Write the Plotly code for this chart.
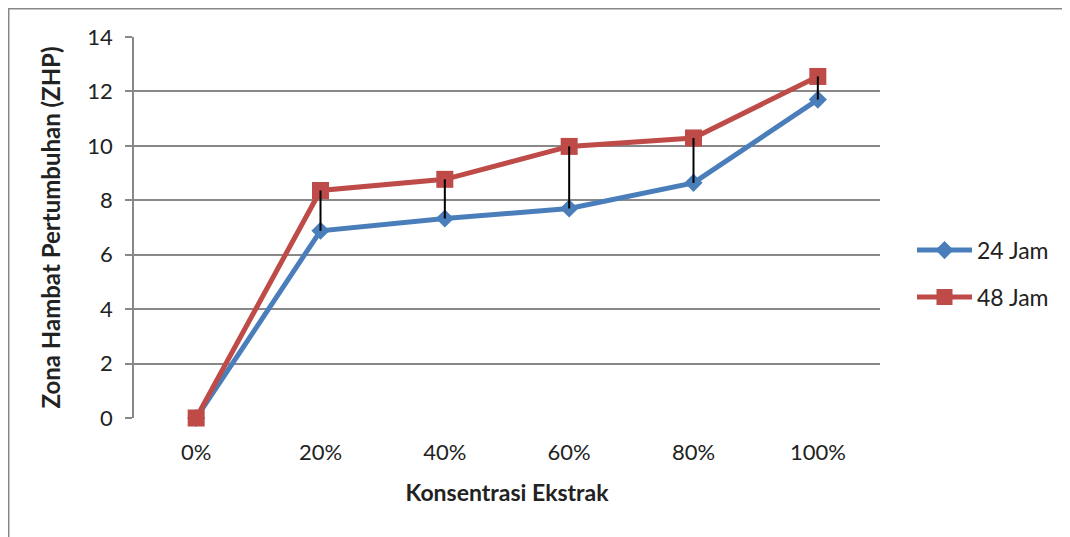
import plotly.graph_objects as go

categories = ["0%", "20%", "40%", "60%", "80%", "100%"]
jam24 = [0, 6.88, 7.33, 7.70, 8.64, 11.70]
jam48 = [0, 8.36, 8.77, 9.98, 10.29, 12.55]
y_ticks = [0, 2, 4, 6, 8, 10, 12, 14]

BLUE = "#4A7EBB"
RED = "#BE4B48"
GRID = "#888888"
FONT = "Lato"

# high-low connector lines built from the data arrays
hl_x, hl_y = [], []
for c, a, b in zip(categories, jam24, jam48):
    if a != b:
        hl_x += [c, c, None]
        hl_y += [a, b, None]

fig = go.Figure()
fig.add_trace(go.Scatter(x=categories, y=jam24, name="24 Jam", mode="lines+markers",
                         legendgroup="a", cliponaxis=False,
                         line=dict(color=BLUE, width=5),
                         marker=dict(symbol="diamond", size=14, color=BLUE)))
fig.add_trace(go.Scatter(x=categories, y=jam48, name="48 Jam", mode="lines+markers",
                         legendgroup="b", cliponaxis=False,
                         line=dict(color=RED, width=5),
                         marker=dict(symbol="square", size=17, color=RED)))
fig.add_trace(go.Scatter(x=hl_x, y=hl_y, mode="lines",
                         line=dict(color="black", width=2),
                         showlegend=False, hoverinfo="skip"))

# page has an 8px body margin, so the figure is 8px smaller and shifted
W, H = 1062, 529
ML, MT, MR, MB = 126, 29, 190, 119
PW, PH = W - ML - MR, H - MT - MB

fig.update_layout(
    width=W, height=H,
    margin=dict(l=ML, r=MR, t=MT, b=MB),
    paper_bgcolor="white", plot_bgcolor="white",
    font=dict(family=FONT, size=22, color="#222222"),
    showlegend=True,
    legend=dict(x=(912 - 134) / PW, y=0.379, xanchor="left", yanchor="middle",
                font=dict(family=FONT, size=23, color="#222222"),
                tracegroupgap=14, itemwidth=55),
    xaxis=dict(type="category", categoryorder="array", categoryarray=categories,
               range=[-0.5, 5.5], showgrid=False, zeroline=False,
               showline=False, ticks="", tickfont=dict(size=22), ticklabelstandoff=19,
               title=dict(text="<b>Konsentrasi Ekstrak</b>", font=dict(size=23), standoff=20)),
    yaxis=dict(range=[0, 14], tickvals=y_ticks, showgrid=True, gridcolor=GRID, gridwidth=1.5,
               zeroline=False, showline=True, linecolor=GRID, linewidth=1.5,
               ticks="outside", ticklen=7, tickcolor=GRID, tickwidth=1.5,
               tickfont=dict(size=22), ticklabelstandoff=8,
               title=dict(text="<b>Zona Hambat Pertumbuhan (ZHP)</b>", font=dict(size=24), standoff=20)),
    shapes=[dict(type="rect", xref="paper", yref="paper",
                 x0=-ML / PW + 0.001, x1=(1065 - 134) / PW, y0=-0.4, y1=1 + MT / PH - 0.002,
                 line=dict(color="#888888", width=1.5), fillcolor="rgba(0,0,0,0)", layer="below")],
)

fig.write_html("out.html")
